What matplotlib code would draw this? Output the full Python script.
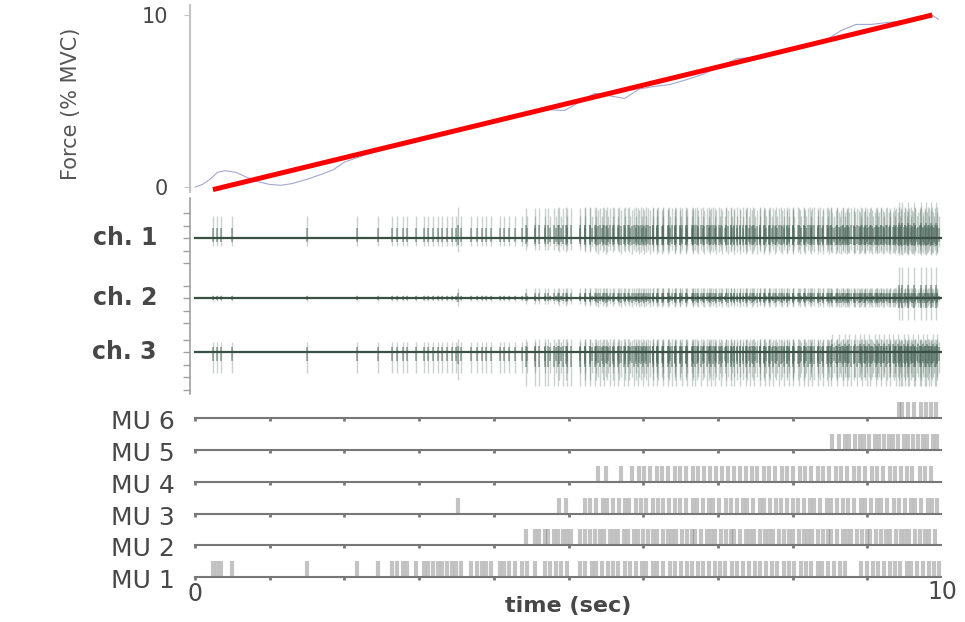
import matplotlib.pyplot as plt

W, H = 965, 622

# force trace (% MVC) and the target ramp
force_t = [0.00, 0.10, 0.20, 0.30, 0.40, 0.55, 0.70, 0.85, 1.00, 1.15, 1.30, 1.50, 1.70, 1.85,
           2.00, 2.30, 2.60, 2.90, 3.20, 3.50, 3.80, 4.10, 4.40, 4.70, 4.95, 5.15, 5.35, 5.55,
           5.75, 5.95, 6.15, 6.35, 6.55, 6.80, 7.05, 7.25, 7.50, 7.80, 8.10, 8.40, 8.65, 8.85,
           9.05, 9.25, 9.45, 9.65, 9.85, 9.95]
force_v = [0.00, 0.15, 0.45, 0.85, 0.95, 0.85, 0.55, 0.30, 0.15, 0.10, 0.20, 0.45, 0.75, 1.00,
           1.45, 1.90, 2.25, 2.55, 2.95, 3.25, 3.55, 3.90, 4.15, 4.50, 4.45, 4.95, 5.45, 5.30,
           5.15, 5.70, 5.85, 5.95, 6.20, 6.55, 7.05, 7.45, 7.55, 7.75, 8.05, 8.40, 9.10, 9.45,
           9.45, 9.55, 9.65, 9.85, 10.05, 9.75]
target_t = [0.24, 9.87]
target_v = [-0.15, 10.0]

# motor unit firing times (sec)
mu1_times = [0.24, 0.30, 0.35, 0.50, 1.50, 2.17, 2.45, 2.64, 2.70, 2.78, 2.84, 2.96, 3.06, 3.12,
             3.19, 3.25, 3.31, 3.38, 3.44, 3.50, 3.56, 3.70, 3.77, 3.84, 3.90, 3.96, 4.08, 4.14,
             4.21, 4.28, 4.38, 4.45, 4.55, 4.68, 4.75, 4.83, 4.90, 4.98, 5.16, 5.22, 5.31, 5.37,
             5.45, 5.53, 5.60, 5.66, 5.75, 5.82, 5.90, 5.98, 6.04, 6.13, 6.19, 6.27, 6.36, 6.42,
             6.50, 6.58, 6.65, 6.74, 6.80, 6.88, 6.96, 7.03, 7.10, 7.19, 7.26, 7.34, 7.42, 7.49,
             7.56, 7.65, 7.72, 7.79, 7.88, 7.95, 8.02, 8.11, 8.18, 8.25, 8.34, 8.40, 8.48, 8.56,
             8.63, 8.70, 8.92, 8.99, 9.08, 9.14, 9.22, 9.30, 9.37, 9.44, 9.53, 9.59, 9.67, 9.75,
             9.82, 9.89, 9.96]
mu2_times = [4.43, 4.55, 4.61, 4.68, 4.73, 4.80, 4.86, 4.93, 4.98, 5.03, 5.16, 5.22, 5.29, 5.35,
             5.42, 5.47, 5.55, 5.61, 5.66, 5.74, 5.80, 5.88, 5.93, 6.00, 6.07, 6.13, 6.18, 6.26,
             6.33, 6.39, 6.44, 6.52, 6.59, 6.65, 6.70, 6.78, 6.85, 6.91, 6.96, 7.04, 7.11, 7.17,
             7.22, 7.30, 7.37, 7.43, 7.48, 7.56, 7.63, 7.69, 7.74, 7.82, 7.89, 7.95, 8.00, 8.08,
             8.15, 8.21, 8.26, 8.34, 8.41, 8.47, 8.52, 8.60, 8.67, 8.73, 8.78, 8.86, 8.93, 8.99,
             9.04, 9.12, 9.19, 9.25, 9.30, 9.38, 9.45, 9.51, 9.56, 9.64, 9.71, 9.77, 9.83, 9.90]
mu3_times = [3.52, 4.87, 4.97, 5.22, 5.29, 5.37, 5.46, 5.52, 5.60, 5.68, 5.75, 5.81, 5.90, 5.97,
             6.04, 6.13, 6.20, 6.26, 6.35, 6.43, 6.49, 6.57, 6.66, 6.72, 6.80, 6.88, 6.94, 7.02,
             7.11, 7.17, 7.25, 7.33, 7.39, 7.47, 7.56, 7.62, 7.70, 7.78, 7.84, 7.92, 8.01, 8.07,
             8.15, 8.23, 8.29, 8.37, 8.46, 8.52, 8.60, 8.68, 8.74, 8.82, 8.91, 8.97, 9.05, 9.13,
             9.19, 9.27, 9.36, 9.42, 9.50, 9.58, 9.64, 9.72, 9.81, 9.87, 9.93]
mu4_times = [5.40, 5.50, 5.70, 5.85, 5.94, 6.01, 6.09, 6.18, 6.25, 6.33, 6.42, 6.49, 6.57, 6.66,
             6.73, 6.81, 6.90, 6.97, 7.05, 7.14, 7.21, 7.29, 7.38, 7.45, 7.53, 7.62, 7.69, 7.77,
             7.86, 7.93, 8.01, 8.10, 8.17, 8.25, 8.34, 8.41, 8.49, 8.58, 8.65, 8.73, 8.82, 8.89,
             8.97, 9.06, 9.13, 9.21, 9.30, 9.37, 9.45, 9.53, 9.60, 9.70, 9.77, 9.85]
mu5_times = [8.53, 8.62, 8.70, 8.76, 8.83, 8.90, 8.96, 9.02, 9.10, 9.15, 9.22, 9.29, 9.35, 9.41,
             9.49, 9.54, 9.61, 9.68, 9.74, 9.80, 9.88, 9.93]
mu6_times = [9.42, 9.46, 9.55, 9.62, 9.72, 9.78, 9.85, 9.92]

mu_labels = ['MU 1', 'MU 2', 'MU 3', 'MU 4', 'MU 5', 'MU 6']
ch_labels = ['ch. 1', 'ch. 2', 'ch. 3']

# action potential size of each MU on each channel (up / down from baseline)
ch1_up = [22, 30, 31, 28, 26, 36]
ch1_down = [8, 12, 14, 16, 15, 17]
ch2_up = [3, 10, 10, 10, 9, 31]
ch2_down = [3, 6, 8, 9, 9, 22]
ch3_up = [10, 13, 13, 12, 18, 12]
ch3_down = [21, 34, 28, 25, 25, 34]

all_times = [mu1_times, mu2_times, mu3_times, mu4_times, mu5_times, mu6_times]
ch_up = [ch1_up, ch2_up, ch3_up]
ch_down = [ch1_down, ch2_down, ch3_down]


def box(l, t, r, b):
    return [l / W, 1 - b / H, (r - l) / W, (b - t) / H]


def clean(ax):
    for s in ax.spines.values():
        s.set_visible(False)
    ax.set_xticks([])
    ax.set_yticks([])


XLIM = (-0.067, 10.0)
txt_col = '#474747'

fig = plt.figure(figsize=(W / 100, H / 100), dpi=100)

# force panel
ax_f = fig.add_axes(box(190, 5, 942, 192))
clean(ax_f)
ax_f.plot(force_t, force_v, color='#a3a6d2', lw=0.8)
ax_f.plot(target_t, target_v, color='#ff0000', lw=3.6, solid_capstyle='butt')
ax_f.set_xlim(*XLIM)
ax_f.set_ylim(-0.29, 10.58)
ax_f.spines['left'].set_visible(True)
ax_f.spines['left'].set_color('#c4c4c4')
ax_f.spines['left'].set_linewidth(1.5)
ax_f.set_yticks([0, 10])
ax_f.tick_params(axis='y', length=4, color='#c4c4c4', labelsize=15,
                 labelcolor=txt_col, pad=12)
ax_f.set_ylabel('Force (% MVC)', fontsize=15, color='#555555')
ax_f.yaxis.set_label_coords(-0.145, 0.47)

# EMG channels
ax_e = fig.add_axes(box(190, 198, 942, 394))
clean(ax_e)
ax_e.set_xlim(*XLIM)
ax_e.set_ylim(-156, 40)
ch_base = [0, -60, -114]
emg_col = '#4f6b5e'
for c, base in enumerate(ch_base):
    for k, times in enumerate(all_times):
        up, dn = ch_up[c][k], ch_down[c][k]
        ax_e.vlines(times, base - dn, base + up, color=emg_col, lw=1.0, alpha=0.3)
        ax_e.vlines(times, base - 0.4 * dn - 1, base + 0.4 * up + 1,
                    color=emg_col, lw=1.4, alpha=0.5)
    ax_e.plot([0, 10], [base, base], color='#3a5045', lw=1.6)
    fig.text(157 / W, 1 - (238 - base) / H, ch_labels[c], ha='right', va='center',
             fontsize=17, fontweight='bold', color=txt_col)
ax_e.spines['left'].set_visible(True)
ax_e.spines['left'].set_color('#a0a0a0')
ax_e.spines['left'].set_linewidth(1.2)
emg_ticks = []
for base, lo, hi in zip(ch_base, [-2, -2, -3], [3, 2, 2]):
    emg_ticks += [base + 12.5 * i for i in range(lo, hi)]
ax_e.set_yticks(emg_ticks)
ax_e.set_yticklabels([])
ax_e.tick_params(axis='y', length=5, color='#a0a0a0', width=1.0)

# motor unit spike trains
ax_m = fig.add_axes(box(190, 396, 942, 600))
clean(ax_m)
ax_m.set_xlim(*XLIM)
ax_m.set_ylim(0, 204)
mu_base = [23, 55, 86, 118, 150, 182]
for k, times in enumerate(all_times):
    b = mu_base[k]
    ax_m.vlines(times, b, b + 16, color='#7a7a7a', lw=3.0, alpha=0.45)
    ax_m.plot([0, 10], [b, b], color='#777777', lw=1.5)
    ax_m.vlines(range(10), b - 3, b, color='#777777', lw=2.0)
    fig.text(175 / W, 1 - (600 - b + 4) / H, mu_labels[k], ha='right', va='center',
             fontsize=18, color=txt_col)

ax_m.text(0, 6, '0', ha='center', va='center', fontsize=17, color=txt_col)
ax_m.text(10, 8, '10', ha='center', va='center', fontsize=17, color=txt_col)
fig.text(568 / W, 1 - 606 / H, 'time (sec)', ha='center', va='center',
         fontsize=16, fontweight='bold', color=txt_col)

fig.savefig('out.png', dpi=100)
